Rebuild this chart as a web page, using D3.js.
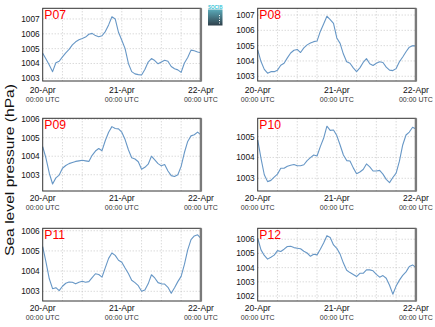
<!DOCTYPE html>
<html>
<head>
<meta charset="utf-8">
<script src="https://cdn.jsdelivr.net/npm/d3@7"></script>
<style>
  html, body { margin: 0; padding: 0; background: #fff; }
  svg { display: block; font-family: "Liberation Sans", Arial, sans-serif; }
</style>
</head>
<body>
<svg id="chart" width="435" height="327"></svg>
<script>
// Hourly sea level pressure (hPa), 20-Apr 00:00 UTC to 22-Apr 00:00 UTC
const hours = d3.range(0, 49);

const stations = ["P07", "P08", "P09", "P10", "P11", "P12"];

const p07 = [1004.69, 1004.3, 1003.9, 1003.45, 1004.05, 1004.15, 1004.45, 1004.72, 1004.95, 1005.25,
  1005.46, 1005.6, 1005.68, 1005.78, 1005.97, 1006.03, 1005.88, 1005.8, 1005.87, 1006.15,
  1006.6, 1007.15, 1007.0, 1006.1, 1005.57, 1005.0, 1004.0, 1003.45, 1003.3, 1003.25,
  1003.22, 1003.6, 1004.1, 1004.33, 1004.2, 1003.98, 1004.1, 1004.22, 1004.15, 1003.8,
  1003.65, 1003.57, 1003.4, 1004.03, 1004.4, 1004.9, 1004.86, 1004.78, 1004.73];

const p08 = [1004.72, 1003.96, 1003.45, 1003.2, 1003.3, 1003.3, 1003.4, 1003.72, 1003.85, 1004.2,
  1004.52, 1004.7, 1004.75, 1004.55, 1004.85, 1005.05, 1005.17, 1005.26, 1005.3, 1005.93,
  1006.42, 1006.92, 1006.7, 1006.45, 1005.5, 1005.15, 1004.45, 1003.95, 1003.85, 1003.55,
  1003.3, 1003.55, 1003.9, 1004.15, 1003.82, 1003.7, 1003.85, 1003.95, 1003.9, 1003.6,
  1003.4, 1003.37, 1003.5, 1003.95, 1004.26, 1004.6, 1004.9, 1005.0, 1004.98];

const p09 = [1004.52, 1003.89, 1003.08, 1002.5, 1002.83, 1002.98, 1003.35, 1003.5, 1003.6, 1003.66,
  1003.72, 1003.75, 1003.78, 1003.75, 1003.72, 1004.05, 1004.28, 1004.42, 1004.3, 1004.85,
  1005.3, 1005.6, 1005.5, 1005.48, 1005.3, 1004.9, 1004.35, 1003.92, 1003.85, 1003.7,
  1003.3, 1003.4, 1003.57, 1004.0, 1003.8, 1003.6, 1003.48, 1003.55, 1003.2, 1002.95,
  1002.9, 1003.0, 1003.45, 1004.2, 1004.8, 1005.1, 1005.16, 1005.3, 1005.15];

const p10 = [1004.84, 1003.96, 1003.17, 1002.84, 1002.9, 1003.06, 1003.2, 1003.48, 1003.48, 1003.58,
  1003.63, 1003.66, 1003.6, 1003.6, 1003.65, 1003.85, 1003.99, 1004.12, 1004.07, 1004.52,
  1004.92, 1005.5, 1005.3, 1005.32, 1005.05, 1004.6, 1004.12, 1003.85, 1003.83, 1003.5,
  1003.22, 1003.3, 1003.42, 1003.69, 1003.55, 1003.35, 1003.35, 1003.38, 1003.2, 1002.95,
  1002.79, 1003.04, 1003.25, 1003.82, 1004.6, 1005.08, 1005.22, 1005.45, 1005.37];

const p11 = [1005.21, 1004.45, 1003.62, 1003.13, 1003.18, 1003.03, 1003.25, 1003.4, 1003.46, 1003.45,
  1003.37, 1003.45, 1003.5, 1003.45, 1003.48, 1003.68, 1003.87, 1003.83, 1003.7, 1004.17,
  1004.63, 1004.9, 1004.78, 1004.54, 1004.44, 1004.15, 1003.88, 1003.55, 1003.43, 1003.28,
  1003.0, 1003.06, 1003.37, 1003.82, 1003.66, 1003.43, 1003.37, 1003.36, 1003.2, 1002.9,
  1003.18, 1003.48, 1003.74, 1004.33, 1005.05, 1005.56, 1005.74, 1005.8, 1005.62];

const p12 = [1006.07, 1005.25, 1004.86, 1004.6, 1004.73, 1004.88, 1005.2, 1005.14, 1005.3, 1005.49,
  1005.5, 1005.41, 1005.37, 1005.33, 1005.15, 1005.03, 1004.8, 1004.94, 1004.9, 1005.3,
  1005.73, 1006.25, 1006.12, 1005.6, 1005.36, 1004.95, 1004.32, 1003.82, 1003.65, 1003.52,
  1003.37, 1003.6, 1003.6, 1003.85, 1003.84, 1003.78, 1003.53, 1003.33, 1003.44, 1003.25,
  1002.76, 1002.13, 1002.7, 1003.12, 1003.45, 1003.7, 1004.08, 1004.19, 1004.0];

const series = [p07, p08, p09, p10, p11, p12];

// Pressure axis range and tick values of each panel
const yLimits = [[1002.82, 1007.72], [1002.69, 1007.44], [1002.12, 1006.05],
                 [1002.39, 1005.88], [1002.52, 1006.12], [1001.65, 1006.77]];
const yTicks = [[1003, 1004, 1005, 1006, 1007], [1003, 1004, 1005, 1006, 1007],
                [1003, 1004, 1005, 1006], [1003, 1004, 1005],
                [1003, 1004, 1005, 1006], [1002, 1003, 1004, 1005, 1006]];

// Time axis: labelled days and 6-hourly grid
const dayHours = [0, 24, 48];
const dayLabels = ["20-Apr", "21-Apr", "22-Apr"];
const timeLabel = "00:00 UTC";
const gridHours = d3.range(6, 48, 6);

// Panel geometry
const colLeft = [42.7, 257.7];
const rowTop = [8.3, 118.3, 228.3];
const rowLabelGap = [8.6, 7, 7];
const panelW = 158.2;
const panelH = 72.7;

const svg = d3.select("#chart");

// Logo in the top centre
const defs = svg.append("defs");
const grad = defs.append("linearGradient").attr("id", "logoGrad")
  .attr("x1", 0).attr("y1", 0).attr("x2", 0).attr("y2", 1);
grad.append("stop").attr("offset", "0%").attr("stop-color", "#5aaab9");
grad.append("stop").attr("offset", "100%").attr("stop-color", "#2f3f4a");
const logo = svg.append("g").attr("class", "logo");
logo.append("rect").attr("x", 208).attr("y", 9.5).attr("width", 14.5).attr("height", 16)
  .attr("fill", "url(#logoGrad)");
logo.append("line").attr("x1", 219.5).attr("x2", 219.5).attr("y1", 15).attr("y2", 25)
  .attr("stroke", "#fff").attr("stroke-width", 1).attr("stroke-dasharray", "1,1.5");
logo.append("text").attr("x", 215.2).attr("y", 8.6).attr("text-anchor", "middle")
  .attr("font-size", 6.2).attr("font-weight", "bold").attr("fill", "#38c4d6")
  .attr("textLength", 14.5).attr("lengthAdjust", "spacingAndGlyphs").text("SOCIB");

// Shared y-axis title
svg.append("text")
  .attr("transform", "translate(13.8,170) rotate(-90)")
  .attr("text-anchor", "middle")
  .attr("font-size", 13)
  .attr("fill", "#111")
  .attr("textLength", 172).attr("lengthAdjust", "spacingAndGlyphs")
  .text("Sea level pressure (hPa)");

stations.forEach((name, i) => {
  const col = i % 2, row = Math.floor(i / 2);
  const x0 = colLeft[col], y0 = rowTop[row];
  const g = svg.append("g").attr("transform", `translate(${x0},${y0})`);

  const x = d3.scaleLinear().domain([0, 48]).range([0, panelW]);
  const y = d3.scaleLinear().domain(yLimits[i]).range([panelH, 0]);

  // dotted grid
  g.append("g").selectAll("line").data(gridHours).join("line")
    .attr("x1", d => x(d)).attr("x2", d => x(d))
    .attr("y1", 0).attr("y2", panelH)
    .attr("stroke", "#bdbdbd").attr("stroke-width", 0.8).attr("stroke-dasharray", "1,2");
  g.append("g").selectAll("line").data(yTicks[i]).join("line")
    .attr("x1", 0).attr("x2", panelW)
    .attr("y1", d => y(d)).attr("y2", d => y(d))
    .attr("stroke", "#bdbdbd").attr("stroke-width", 0.8).attr("stroke-dasharray", "1,2");

  // pressure trace
  const line = d3.line().x((d, k) => x(hours[k])).y(d => y(d));
  g.append("path").datum(series[i])
    .attr("d", line)
    .attr("fill", "none")
    .attr("stroke", "#6797c6")
    .attr("stroke-width", 1.1)
    .attr("stroke-linejoin", "round");

  // frame
  g.append("rect").attr("x", 0).attr("y", 0).attr("width", panelW).attr("height", panelH)
    .attr("fill", "none").attr("stroke", "#333").attr("stroke-width", 1);
  g.append("line").attr("x1", panelW).attr("x2", panelW).attr("y1", 0).attr("y2", panelH + 0.5)
    .attr("stroke", "#7a7a7a").attr("stroke-width", 2.4);

  // y tick labels
  g.append("g").selectAll("text").data(yTicks[i]).join("text")
    .attr("x", -3).attr("y", d => y(d)).attr("dy", "0.35em")
    .attr("text-anchor", "end").attr("font-size", 8.3).attr("fill", "#111")
    .text(d => d);

  // x tick labels
  const ly = panelH + rowLabelGap[row];
  g.append("g").selectAll("text").data(dayHours).join("text")
    .attr("x", d => x(d)).attr("y", ly).attr("dy", "0.35em")
    .attr("text-anchor", "middle").attr("font-size", 8.6).attr("fill", "#111")
    .text((d, k) => dayLabels[k]);
  g.append("g").selectAll("text").data(dayHours).join("text")
    .attr("x", d => x(d)).attr("y", ly + 9.5).attr("dy", "0.35em")
    .attr("text-anchor", "middle").attr("font-size", 7).attr("fill", "#333")
    .text(timeLabel);

  // station name
  g.append("text").attr("x", 1.6).attr("y", 11.2)
    .attr("font-size", 12.2).attr("fill", "#f00").text(name);
});
</script>
</body>
</html>
